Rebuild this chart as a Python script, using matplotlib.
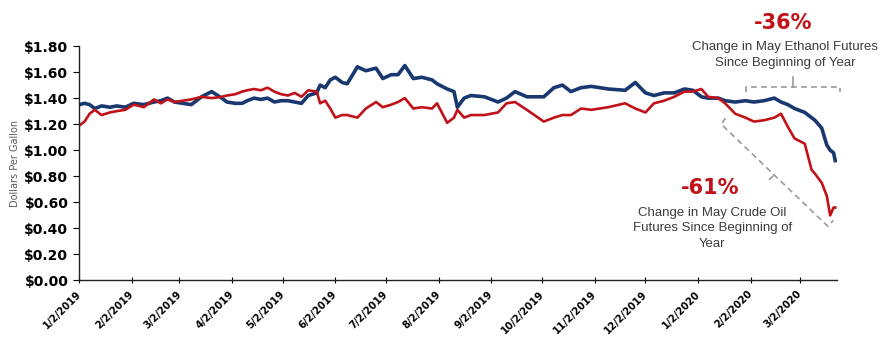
import numpy as np
import pandas as pd
import matplotlib
matplotlib.use("Agg")
import matplotlib.pyplot as plt
from matplotlib.ticker import FuncFormatter

# Prices (dollars per gallon)
dates = ["2019-01-02", "2019-01-05", "2019-01-08", "2019-01-11", "2019-01-15",
         "2019-01-20", "2019-01-24", "2019-01-29", "2019-02-03", "2019-02-09",
         "2019-02-15", "2019-02-19", "2019-02-23", "2019-02-27", "2019-03-04",
         "2019-03-09", "2019-03-15", "2019-03-21", "2019-03-27", "2019-03-30",
         "2019-04-04", "2019-04-08", "2019-04-11", "2019-04-15", "2019-04-19",
         "2019-04-23", "2019-04-27", "2019-05-01", "2019-05-05", "2019-05-09",
         "2019-05-13", "2019-05-17", "2019-05-22", "2019-05-24", "2019-05-27",
         "2019-05-30", "2019-06-02", "2019-06-06", "2019-06-09", "2019-06-15",
         "2019-06-20", "2019-06-26", "2019-06-30", "2019-07-05", "2019-07-09",
         "2019-07-13", "2019-07-18", "2019-07-23", "2019-07-29", "2019-08-01",
         "2019-08-07", "2019-08-11", "2019-08-13", "2019-08-17", "2019-08-21",
         "2019-08-29", "2019-09-06", "2019-09-11", "2019-09-16", "2019-09-23",
         "2019-10-03", "2019-10-09", "2019-10-14", "2019-10-19", "2019-10-25",
         "2019-10-31", "2019-11-10", "2019-11-20", "2019-11-26", "2019-12-02",
         "2019-12-07", "2019-12-13", "2019-12-19", "2019-12-25", "2019-12-30",
         "2020-01-04", "2020-01-08", "2020-01-14", "2020-01-18", "2020-01-24",
         "2020-01-30", "2020-02-04", "2020-02-10", "2020-02-16", "2020-02-20",
         "2020-02-24", "2020-02-28", "2020-03-05", "2020-03-09", "2020-03-11",
         "2020-03-15", "2020-03-18", "2020-03-20", "2020-03-22", "2020-03-23"]

ethanol = [1.35, 1.36, 1.35, 1.32, 1.34, 1.33, 1.34, 1.33, 1.36, 1.35,
           1.37, 1.38, 1.40, 1.37, 1.36, 1.35, 1.41, 1.45, 1.40, 1.37,
           1.36, 1.36, 1.38, 1.40, 1.39, 1.40, 1.37, 1.38, 1.38, 1.37,
           1.36, 1.42, 1.44, 1.50, 1.48, 1.54, 1.56, 1.52, 1.51, 1.64,
           1.61, 1.63, 1.55, 1.58, 1.58, 1.65, 1.55, 1.56, 1.54, 1.51,
           1.47, 1.45, 1.33, 1.40, 1.42, 1.41, 1.37, 1.40, 1.45, 1.41,
           1.41, 1.48, 1.50, 1.45, 1.48, 1.49, 1.47, 1.46, 1.52, 1.44,
           1.42, 1.44, 1.44, 1.47, 1.46, 1.41, 1.40, 1.40, 1.38, 1.37,
           1.38, 1.37, 1.38, 1.40, 1.37, 1.35, 1.32, 1.29, 1.25, 1.23,
           1.17, 1.04, 1.00, 0.98, 0.92]

crude = [1.19, 1.22, 1.28, 1.31, 1.27, 1.29, 1.30, 1.31, 1.35, 1.33,
         1.39, 1.36, 1.39, 1.37, 1.38, 1.39, 1.41, 1.40, 1.41, 1.42,
         1.43, 1.45, 1.46, 1.47, 1.46, 1.48, 1.45, 1.43, 1.42, 1.44,
         1.41, 1.46, 1.45, 1.36, 1.38, 1.32, 1.25, 1.27, 1.27, 1.25,
         1.32, 1.37, 1.33, 1.35, 1.37, 1.40, 1.32, 1.33, 1.32, 1.36,
         1.21, 1.25, 1.31, 1.25, 1.27, 1.27, 1.29, 1.36, 1.37, 1.31,
         1.22, 1.25, 1.27, 1.27, 1.32, 1.31, 1.33, 1.36, 1.32, 1.29,
         1.36, 1.38, 1.41, 1.45, 1.45, 1.47, 1.41, 1.40, 1.36, 1.28,
         1.25, 1.22, 1.23, 1.25, 1.28, 1.18, 1.09, 1.05, 0.85, 0.82,
         0.75, 0.65, 0.50, 0.56, 0.56]

tick_dates = ["2019-01-02", "2019-02-02", "2019-03-02", "2019-04-02", "2019-05-02",
              "2019-06-02", "2019-07-02", "2019-08-02", "2019-09-02", "2019-10-02",
              "2019-11-02", "2019-12-02", "2020-01-02", "2020-02-02", "2020-03-02"]

x = pd.to_datetime(dates)
ticks = pd.to_datetime(tick_dates)

navy = "#18386f"
red = "#c01218"
gray_txt = "#3c3c3c"
dash_col = "#9a9a9a"

fig = plt.figure(figsize=(8.96, 3.37), dpi=100)
ax = fig.add_axes([0.0887, 0.1677, 0.8454, 0.6958])

ax.plot(x, ethanol, color=navy, lw=2.6, solid_joinstyle="round")
ax.plot(x, crude, color=red, lw=1.9, solid_joinstyle="round")

ax.set_xlim(pd.Timestamp("2019-01-02"), pd.Timestamp("2020-03-24"))
ax.set_ylim(0, 1.8)
ax.set_yticks(np.arange(0, 1.81, 0.2))
ax.yaxis.set_major_formatter(FuncFormatter(lambda v, p: "$%.2f" % v))
ax.set_xticks(ticks)
ax.set_xticklabels(["%d/%d/%d" % (d.month, d.day, d.year) for d in ticks])

for s in ["top", "right"]:
    ax.spines[s].set_visible(False)
for s in ["left", "bottom"]:
    ax.spines[s].set_color("#222222")
    ax.spines[s].set_linewidth(1.0)

ax.tick_params(axis="y", direction="out", length=4, pad=4, labelsize=10)
ax.tick_params(axis="x", direction="inout", length=5, pad=6, labelsize=7.2)
for lab in ax.get_yticklabels():
    lab.set_fontweight("bold")
for lab in ax.get_xticklabels():
    lab.set_fontweight("bold")
    lab.set_rotation(45)
    lab.set_ha("right")
    lab.set_va("center")
    lab.set_rotation_mode("anchor")

ax.set_ylabel("Dollars Per Gallon", fontsize=7, color="#5a5a5a")
ax.yaxis.set_label_coords(-0.078, 0.5)

# bracket over the ethanol drop
kw = dict(color=dash_col, lw=1.2, ls=(0, (3.5, 2.5)), transform=ax.transAxes, clip_on=False)
ax.plot([0.880, 0.880, 1.004, 1.004], [0.803, 0.825, 0.825, 0.803], **kw)
ax.plot([0.942, 0.942], [0.825, 0.868], color=dash_col, lw=1.2,
        transform=ax.transAxes, clip_on=False)

# bracket along the crude oil drop
ax.plot([0.853, 0.847, 0.988, 0.995], [0.692, 0.667, 0.231, 0.256], **kw)
ax.plot([0.917, 0.911], [0.449, 0.432], color=dash_col, lw=1.2,
        transform=ax.transAxes, clip_on=False)

fig.text(0.874, 0.932, "-36%", color=red, fontsize=15, fontweight="bold",
         ha="center", va="center")
fig.text(0.876, 0.837, "Change in May Ethanol Futures\nSince Beginning of Year",
         family="Liberation Sans", fontsize=9.5, color=gray_txt, ha="center",
         va="center", linespacing=1.4)
fig.text(0.792, 0.442, "-61%", color=red, fontsize=15, fontweight="bold",
         ha="center", va="center")
fig.text(0.795, 0.323, "Change in May Crude Oil\nFutures Since Beginning of\nYear",
         family="Liberation Sans", fontsize=9.5, color=gray_txt, ha="center",
         va="center", linespacing=1.4)

fig.savefig("out.png", dpi=100)
